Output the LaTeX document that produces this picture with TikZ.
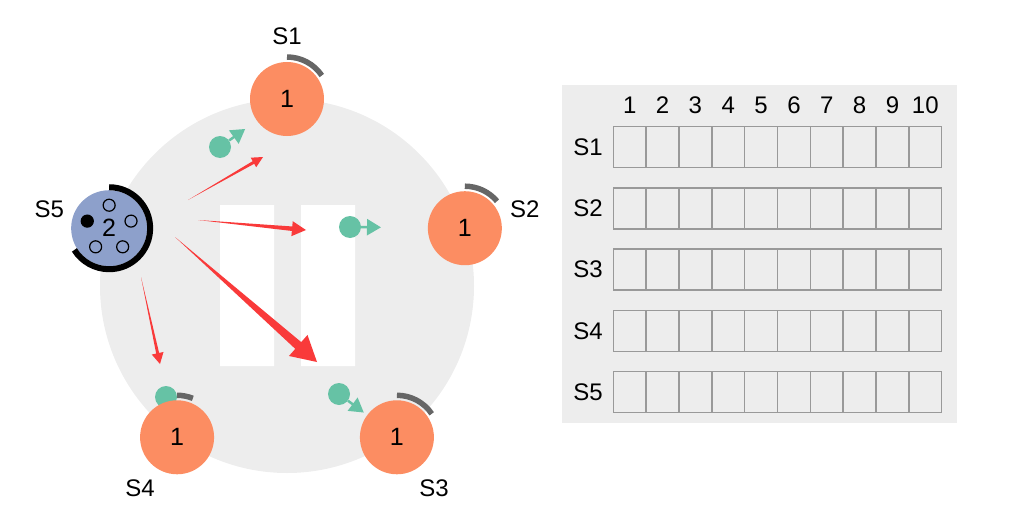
\documentclass[tikz,border=0pt]{standalone}
\usepackage{fontspec}
\setmainfont{Liberation Sans}
\usetikzlibrary{calc,arrows.meta}
\definecolor{ringgray}{HTML}{EDEDED}
\definecolor{peerorange}{HTML}{FC8D62}
\definecolor{seedblue}{HTML}{8DA0CB}
\definecolor{piecegreen}{HTML}{66C2A5}
\definecolor{flowred}{HTML}{F93A3A}
\definecolor{cellgray}{HTML}{999999}
\definecolor{havegray}{HTML}{666666}
\tikzset{
    peer/.style={circle,fill=peerorange,minimum size=74pt,inner sep=0pt,
        font=\fontsize{25}{28}\selectfont},
    seed/.style={peer,fill=seedblue,minimum size=76pt},
    tag/.style={font=\fontsize{24}{28}\selectfont},
    piece/.style={circle,fill=piecegreen,minimum size=22pt,inner sep=0pt},
    pointer/.style={piecegreen,line width=2.5pt,-{Triangle[length=14pt,width=16pt]}},
    have/.style={havegray,line width=5.5pt},
    hole/.style={circle,draw=black,line width=1.2pt,minimum size=12pt,inner sep=0pt},
    cell/.style={draw=cellgray,line width=1.5pt},
}
% tapered arrow: from, tip, shaft width, head length, head width
\newcommand\taper[5]{%
    \path ($(#2)!#4!(#1)$) coordinate (hb)
        ($(hb)!#5/2!90:(#2)$) coordinate (hl) ($(hb)!#5/2!-90:(#2)$) coordinate (hr)
        ($(hb)!#3/2!90:(#2)$) coordinate (sl) ($(hb)!#3/2!-90:(#2)$) coordinate (sr);
    \fill[flowred] (#1) -- (sl) -- (hl) -- (#2) -- (hr) -- (sr) -- cycle;}
\begin{document}
\begin{tikzpicture}[x=1pt,y=1pt]
    \useasboundingbox (0,0) rectangle (1012,-519);
    % swarm
    \fill[ringgray] (287,-286) coordinate (ring) circle (187pt);
    \fill[white] (220,-205) rectangle (274,-366)
        (301,-205) rectangle (355,-366);

    % piece hidden under S4
    \node[piece] (g4) at (166,-397) {};
    % peers
    \foreach \a/\n/\e in {90/1/34,18/2/40,-54/3/34,-126/4/68} {
        \node[peer] (s\n) at ($(ring)+(\a:187pt)$) {1};
        \draw[have] (s\n.center) ++(90:42pt) arc[start angle=90,end angle=\e,radius=42pt];
    }
    % seed
    \node[seed] (s5) at ($(ring)+(162:187pt)$) {2};
    \draw[line width=6pt] (s5.center) ++(90:41pt) arc[start angle=90,end angle=-148,radius=41pt];
    \foreach \a [count=\i] in {90,18,-54,-126}
        \node[hole] (o\i) at ($(s5)+(\a:23pt)$) {};
    \node[hole,fill=black] (o5) at ($(s5)+(162:23pt)$) {};

    % labels
    \foreach \a/\n in {90/1,18/2,-54/3,-126/4,162/5}
        \node[tag] (l\n) at ($(ring)+(\a:250pt)$) {S\n};

    % pieces on the way
    \node[piece] (g1) at (220,-147) {};
    \node[piece] (g2) at (350,-227) {};
    \node[piece] (g3) at (339,-394) {};
    \foreach \n in {1,2,3} {
        \coordinate (t\n) at ($(g\n)!31pt!(s\n)$);
        \draw[pointer] (g\n) -- (t\n);
    }

    % requests
    \coordinate (f1) at (188,-200); \coordinate (e1) at (263,-157);
    \coordinate (f2) at (198,-220); \coordinate (e2) at (306,-230);
    \coordinate (f3) at (175,-237); \coordinate (e3) at (317,-362);
    \coordinate (f4) at (141,-277); \coordinate (e4) at (160,-364);
    \taper{f1}{e1}{3pt}{11pt}{11pt}
    \taper{f2}{e2}{4.5pt}{14pt}{15pt}
    \taper{f3}{e3}{9pt}{25pt}{28pt}
    \taper{f4}{e4}{3pt}{11pt}{12pt}

    % table
    \fill[ringgray] (562,-85) rectangle (957,-423);
    \scope[shift={(613.3,-126.7)}]
    \foreach \r in {1,...,5} {
        \node[tag] (r\r) at (-25.3,{-20.5-61.25*(\r-1)}) {S\r};
        \foreach \c in {1,...,10}
            \draw[cell] ({32.84*(\c-1)},{-61.25*(\r-1)}) rectangle ++(32.84,-41);
    }
    \foreach \c in {1,...,10}
        \node[tag] (c\c) at ({32.84*(\c-0.5)},21.7) {\c};
    \endscope
\end{tikzpicture}
\end{document}
